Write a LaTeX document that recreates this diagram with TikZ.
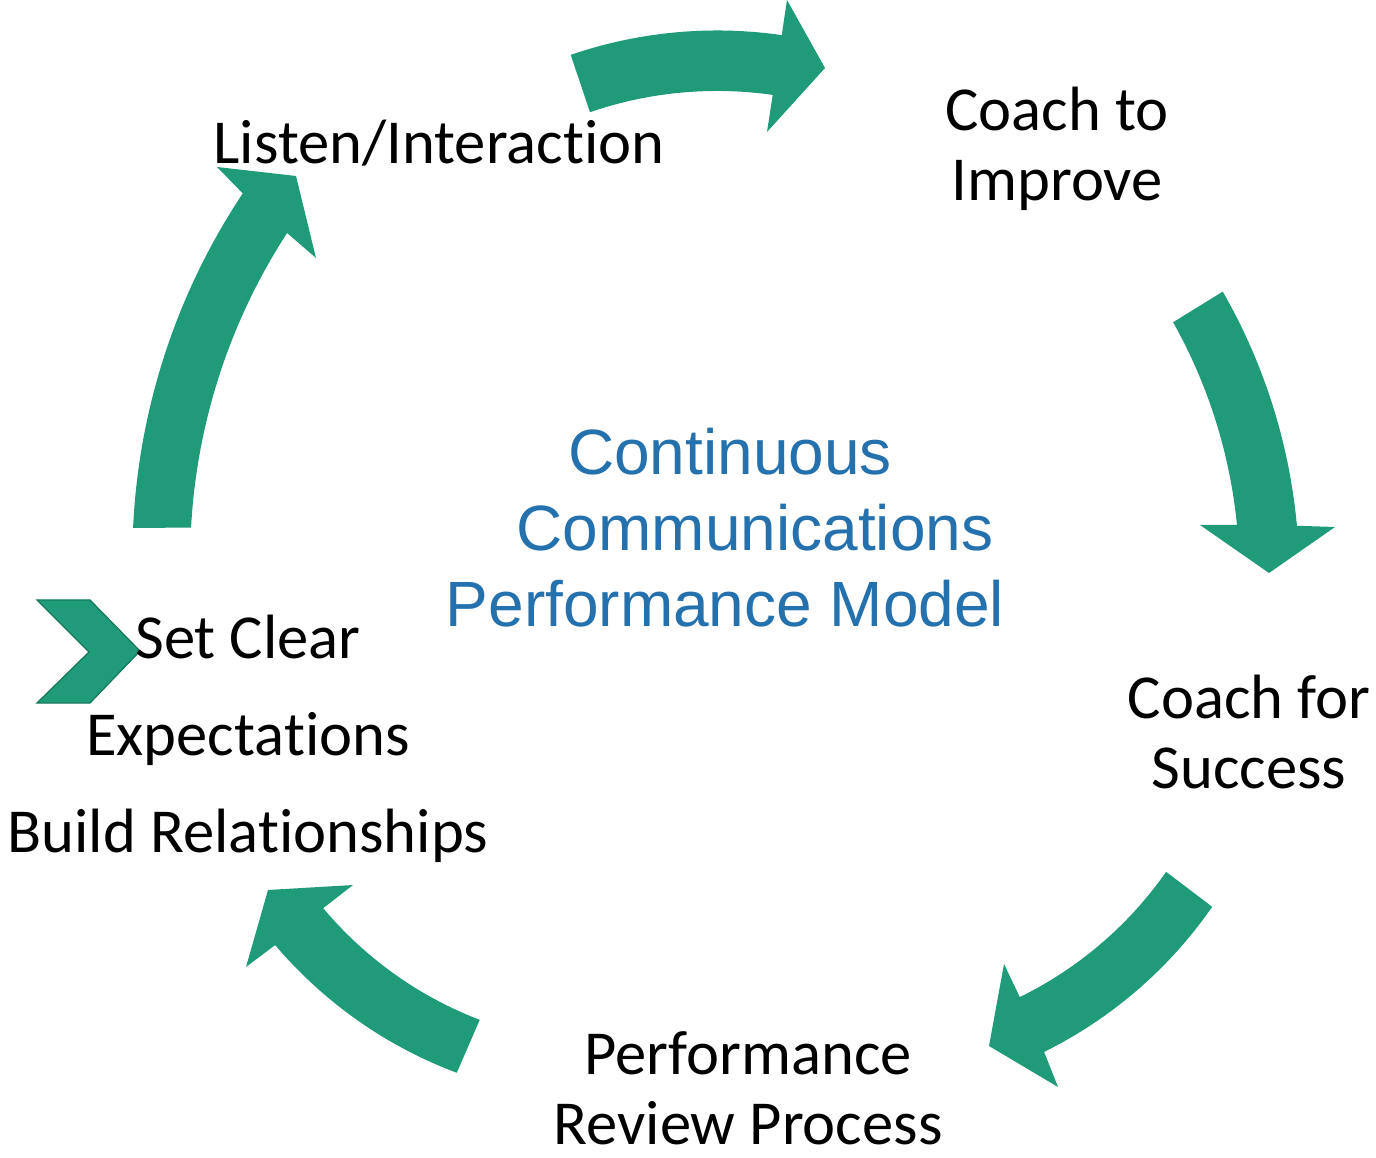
\documentclass[tikz,border=0pt]{standalone}
\usepackage{fontspec}
\setmainfont{Carlito}[RawFeature={-liga;-clig;-dlig;-calt;-rlig}]
\newfontfamily\titlefont{Liberation Sans}

\definecolor{cycgreen}{RGB}{31,155,121}
\definecolor{cycedge}{RGB}{22,120,92}
\definecolor{titleblue}{RGB}{36,113,174}

\begin{document}
\begin{tikzpicture}[
  x=0.01cm, y=0.01cm,
  declare function={sprad(\t,\a,\b,\r,\s)=\r+(\s-\r)*(\t-\a)/(\b-\a);},
  cycarrow/.style={fill=cycgreen},
  band/.style={samples=40, variable=\x},
  lbl/.style={font=\fontsize{17.8}{19.9}\selectfont, align=center, inner sep=0pt, text=black},
  title/.style={font=\titlefont\fontsize{18.2}{21.6}\selectfont, align=center, inner sep=0pt, text=titleblue},
  chevronbox/.style={fill=cycgreen, draw=cycedge, line width=0.35pt, line join=miter}
]
\useasboundingbox (0,0) rectangle (1376,1157);

% ---- curved block arrows of the cycle (outer edge, head, inner edge) ----
% left arrow, pointing up
\fill[cycarrow]
  plot[band, domain=177.3:146.3] ({791+sprad(\x,177.3,146.3,658.7,659)*cos(\x)}, {598+sprad(\x,177.3,146.3,658.7,659)*sin(\x)})
  -- (217,990) -- (296,981) -- (316,899)
  -- plot[band, domain=147.1:177.0] ({791+sprad(\x,147.1,177.0,600.2,600.8)*cos(\x)}, {598+sprad(\x,147.1,177.0,600.2,600.8)*sin(\x)})
  -- cycle;

% top arrow, pointing right
\fill[cycarrow]
  plot[band, domain=108.5:81.4] ({714+sprad(\x,108.5,81.4,451.5,453)*cos(\x)}, {674+sprad(\x,108.5,81.4,451.5,453)*sin(\x)})
  -- (787,1157) -- (825,1089) -- (767,1025)
  -- plot[band, domain=81.4:108.5] ({714+sprad(\x,81.4,108.5,392.5,391)*cos(\x)}, {674+sprad(\x,81.4,108.5,392.5,391)*sin(\x)})
  -- cycle;

% right arrow, pointing down
\fill[cycarrow]
  plot[band, domain=29.9:5.3] ({723+sprad(\x,29.9,5.3,576.5,576.4)*cos(\x)}, {578+sprad(\x,29.9,5.3,576.5,576.4)*sin(\x)})
  -- (1335,630) -- (1269,584) -- (1200,632)
  -- plot[band, domain=6.0:29.7] ({723+sprad(\x,6.0,29.7,516.8,518.2)*cos(\x)}, {578+sprad(\x,6.0,29.7,516.8,518.2)*sin(\x)})
  -- cycle;

% lower right arrow, pointing down-left
\fill[cycarrow]
  plot[band, domain=-37.2:-66.1] ({862+sprad(\x,-37.2,-66.1,439.6,449.5)*cos(\x)}, {516+sprad(\x,-37.2,-66.1,439.6,449.5)*sin(\x)})
  -- (1058,70) -- (989,111) -- (1004,193)
  -- plot[band, domain=-66.1:-37.2] ({862+sprad(\x,-66.1,-37.2,389.5,381.8)*cos(\x)}, {516+sprad(\x,-66.1,-37.2,389.5,381.8)*sin(\x)})
  -- cycle;

% lower left arrow, pointing up-left
\fill[cycarrow]
  plot[band, domain=-113.5:-142.5] ({631+sprad(\x,-113.5,-142.5,437,448.6)*cos(\x)}, {485+sprad(\x,-113.5,-142.5,437,448.6)*sin(\x)})
  -- (246,190) -- (268,267) -- (353,272)
  -- plot[band, domain=-142.5:-113.5] ({631+sprad(\x,-142.5,-113.5,388,379.3)*cos(\x)}, {485+sprad(\x,-142.5,-113.5,388,379.3)*sin(\x)})
  -- cycle;

% ---- bullet chevron ----
\filldraw[chevronbox] (37,557) -- (90,557) -- (140,506) -- (90,454) -- (37,454) -- (89,505) -- cycle;

% ---- labels ----
\node[lbl, anchor=base] (listen) at (439,993) {Listen/Interaction};
\node[lbl] (improve) at (1057,1008) {Coach to\\Improve};
\node[lbl] (success) at (1249,425) {Coach for\\Success};
\node[lbl] (review) at (748,69) {Performance\\Review Process};
\node[lbl, font=\fontsize{17.8}{27.6}\selectfont] (expect) at (248,418)
  {Set Clear\\Expectations\\Build Relationships};

\node[title] (model) at (740,629)
  {Continuous\hspace*{2mm}\\\hspace*{3mm}Communications\\Performance Model\hspace*{3mm}};
\end{tikzpicture}
\end{document}
